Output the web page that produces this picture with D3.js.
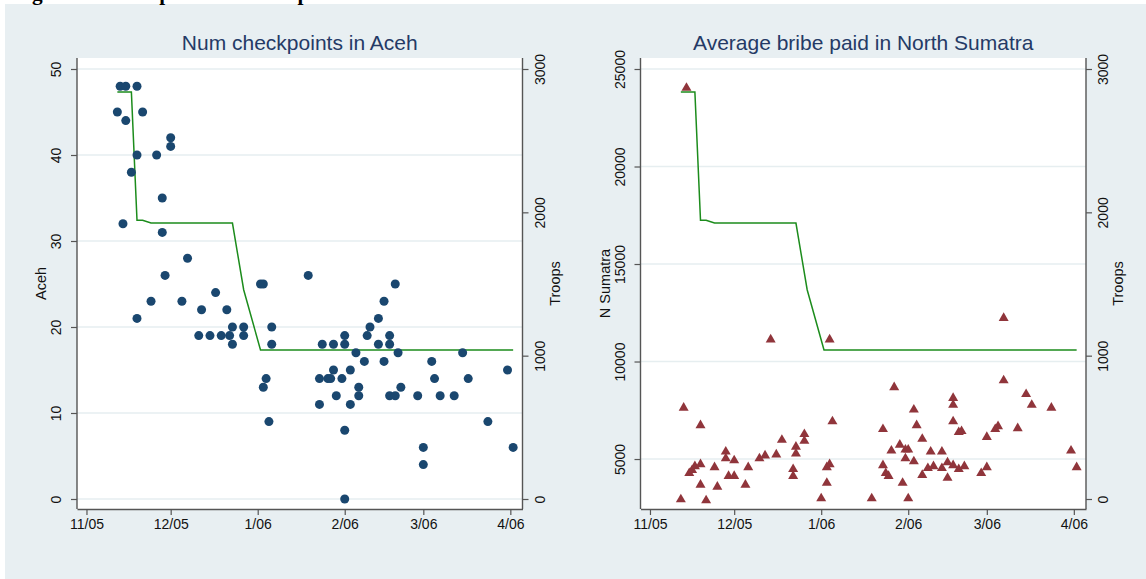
<!DOCTYPE html>
<html><head><meta charset="utf-8">
<script src="https://cdn.jsdelivr.net/npm/d3@7"></script>
<style>
body{margin:0;background:#fff}
svg{display:block;font-family:Arial,"Liberation Sans",Helvetica,sans-serif}
</style>
</head><body>
<svg id="c" width="1146" height="579"></svg>
<script>
// ---------------- data ----------------
const xTickDates = ["2005-11-01","2005-12-01","2006-01-01","2006-02-01","2006-03-01","2006-04-01"];
const xTickLabels = ["11/05","12/05","1/06","2/06","3/06","4/06"];
const acehTicks = [0,10,20,30,40,50];
const sumatraTicks = [5000,10000,15000,20000,25000];
const troopTicks = [0,1000,2000,3000];

const acehDates = ["2005-11-13","2005-11-15","2005-11-19","2005-11-12","2005-11-21","2005-11-15","2005-12-01","2005-12-01","2005-11-19","2005-11-26",
"2005-11-17","2005-11-28","2005-11-14","2005-11-28","2005-12-07","2005-11-29","2005-11-19","2005-11-24","2005-12-05","2005-12-17",
"2005-12-11","2005-12-12","2005-12-15","2005-12-19","2005-12-21","2005-12-23","2005-12-22","2005-12-23","2005-12-27","2005-12-27",
"2006-01-02","2006-01-03","2006-01-06","2006-01-06","2006-01-04","2006-01-03","2006-01-05","2006-01-19","2006-01-23","2006-01-26",
"2006-01-27","2006-01-24","2006-01-28","2006-01-31","2006-02-01","2006-02-01","2006-01-28","2006-01-23","2006-01-29","2006-02-01",
"2006-02-01","2006-02-03","2006-02-03","2006-02-05","2006-02-06","2006-02-06","2006-02-08","2006-02-09","2006-02-10","2006-02-13",
"2006-02-13","2006-02-15","2006-02-15","2006-02-17","2006-02-17","2006-02-17","2006-02-19","2006-02-19","2006-02-20","2006-02-21",
"2006-02-27","2006-03-01","2006-03-01","2006-03-04","2006-03-05","2006-03-07","2006-03-12","2006-03-15","2006-03-17","2006-03-24",
"2006-03-31","2006-04-02"];
const acehCheckpoints = [48,48,48,45,45,44,42,41,40,40,
38,35,32,31,28,26,21,23,23,24,
19,22,19,19,22,20,19,18,20,19,
25,25,20,18,14,13,9,26,14,14,
14,18,18,14,18,19,15,11,12,8,
0,15,11,17,13,12,16,19,20,21,
18,23,16,19,18,12,25,12,17,13,
12,6,4,16,14,12,12,17,14,9,
15,6];

const sumatraDates = ["2005-11-14","2005-11-12","2005-11-13","2005-11-15","2005-11-16","2005-11-17","2005-11-19","2005-11-19","2005-11-19","2005-11-21",
"2005-11-24","2005-11-25","2005-11-28","2005-11-28","2005-11-29","2005-12-01","2005-12-01","2005-12-05","2005-12-06","2005-12-10",
"2005-12-12","2005-12-16","2005-12-18","2005-12-22","2005-12-22","2005-12-23","2005-12-23","2005-12-26","2005-12-26","2005-12-14",
"2006-01-04","2006-01-01","2006-01-03","2006-01-03","2006-01-04","2006-01-05","2006-01-19","2006-01-23","2006-01-23","2006-01-24",
"2006-01-25","2006-01-26","2006-01-27","2006-01-29","2006-01-30","2006-01-31","2006-01-31","2006-02-01","2006-02-01","2006-02-03",
"2006-02-03","2006-02-04","2006-02-06","2006-02-06","2006-02-08","2006-02-09","2006-02-10","2006-02-13","2006-02-13","2006-02-15",
"2006-02-15","2006-02-17","2006-02-17","2006-02-17","2006-02-17","2006-02-19","2006-02-19","2006-02-20","2006-02-21","2006-02-27",
"2006-03-01","2006-03-01","2006-03-04","2006-03-05","2006-03-07","2006-03-07","2006-03-12","2006-03-15","2006-03-17","2006-03-24",
"2006-03-31","2006-04-02"];
const sumatraBribes = [24100,3000,7700,4350,4500,4700,4800,3750,6800,2950,
4650,3650,5450,5100,4200,4200,5000,3750,4650,5100,
5250,5300,6050,4550,4200,5350,5700,6350,6000,11200,
11200,3050,3850,4650,4800,7000,3050,6600,4750,4350,
4200,5500,8750,5800,3850,5550,5100,5550,3050,7600,
4950,6800,6100,4250,4600,5450,4700,5450,4600,4900,
4100,8200,7850,7000,4750,6450,4550,6500,4700,4350,
6200,4650,6600,6750,12300,9100,6650,8400,7850,7700,
5500,4650];

const troopDates = ["2005-11-12","2005-11-17","2005-11-19","2005-11-21","2005-11-24","2005-12-23","2005-12-27","2006-01-02","2006-04-02"];
const troopCounts = [2840,2840,1945,1945,1925,1925,1460,1040,1040];

// ---------------- drawing ----------------
const parse = d3.utcParse("%Y-%m-%d");
const svg = d3.select("#c");
const BG = "#e8eff2";
const TITLE_COL = "#243a66";
const AXIS_COL = "#555";
const GRID_COL = "#e6eef0";

svg.append("rect").attr("x",5).attr("y",4).attr("width",1141).attr("height",575).attr("fill",BG);

// page heading (cut off at the top edge, as in the reference)
svg.append("text").attr("x",13).attr("y",-0.5)
  .attr("font-family","'Liberation Serif','Times New Roman',serif").attr("font-weight","bold")
  .attr("font-size",21.3).attr("fill","#000")
  .text("Figure 3: Checkpoints and troop levels");

const PT = 58, PB = 509, YT = 69, YB = 499;
const xDomain = [new Date(Date.UTC(2005,9,28,15)), new Date(Date.UTC(2006,3,5,8))];

function panel(cfg){
  const g = svg.append("g");
  const x = d3.scaleUtc().domain(xDomain).range([cfg.x0, cfg.x1]);
  const y = d3.scaleLinear().domain(cfg.yDomain).range([YB, YT]);
  const y2 = d3.scaleLinear().domain([0,3000]).range([YB, YT]);

  g.append("rect").attr("x",cfg.x0).attr("y",PT).attr("width",cfg.x1-cfg.x0).attr("height",PB-PT).attr("fill","#fff");

  g.append("g").selectAll("line").data(cfg.yTicks).join("line")
    .attr("x1",cfg.x0).attr("x2",cfg.x1)
    .attr("y1",d=>y(d)).attr("y2",d=>y(d))
    .attr("stroke",GRID_COL).attr("stroke-width",1.3);

  const tdata = troopDates.map((d,i)=>({d:parse(d), v:troopCounts[i]}));
  g.append("path").datum(tdata)
    .attr("fill","none").attr("stroke","#1c8c1c").attr("stroke-width",1.5)
    .attr("d", d3.line().x(p=>x(p.d)).y(p=>y2(p.v)));

  const pts = cfg.dates.map((d,i)=>({d:parse(d), v:cfg.values[i]}));
  if(cfg.marker==="circle"){
    g.append("g").selectAll("circle").data(pts).join("circle")
      .attr("cx",p=>x(p.d)).attr("cy",p=>y(p.v)).attr("r",4.5)
      .attr("fill","#1a476f");
  } else {
    const w=10, h=8.6;
    g.append("g").selectAll("path").data(pts).join("path")
      .attr("transform",p=>`translate(${x(p.d)},${y(p.v)})`)
      .attr("d",`M0,${-h/2}L${w/2},${h/2}L${-w/2},${h/2}Z`)
      .attr("fill","#90353b");
  }

  g.append("line").attr("x1",cfg.x0).attr("x2",cfg.x0).attr("y1",PT).attr("y2",PB).attr("stroke",AXIS_COL).attr("stroke-width",1.4);
  g.append("line").attr("x1",cfg.x1).attr("x2",cfg.x1).attr("y1",PT).attr("y2",PB).attr("stroke",AXIS_COL).attr("stroke-width",1.4);

  const xa = g.append("g").attr("transform",`translate(0,${PB})`)
    .call(d3.axisBottom(x).tickValues(xTickDates.map(parse)).tickFormat((d,i)=>xTickLabels[i]).tickSize(6).tickSizeOuter(0));
  xa.select(".domain").attr("stroke",AXIS_COL).attr("stroke-width",1.4);
  xa.selectAll(".tick line").attr("stroke",AXIS_COL).attr("stroke-width",1.2);
  xa.selectAll(".tick text").attr("font-size",14).attr("fill","#111").attr("font-family","Arial, 'Liberation Sans', sans-serif").attr("y",20).attr("dy",0);

  const ya = g.append("g").attr("transform",`translate(${cfg.x0},0)`)
    .call(d3.axisLeft(y).tickValues(cfg.yTicks).tickFormat(d3.format("d")).tickSize(6).tickSizeOuter(0));
  ya.select(".domain").remove();
  ya.selectAll(".tick line").attr("stroke",AXIS_COL).attr("stroke-width",1.2);
  ya.selectAll(".tick text").attr("font-size",14).attr("fill","#111").attr("font-family","Arial, 'Liberation Sans', sans-serif")
    .attr("transform","rotate(-90)").attr("text-anchor","middle").attr("x",0).attr("y",-16).attr("dy",0);

  const yb = g.append("g").attr("transform",`translate(${cfg.x1},0)`)
    .call(d3.axisRight(y2).tickValues(troopTicks).tickFormat(d3.format("d")).tickSize(6).tickSizeOuter(0));
  yb.select(".domain").remove();
  yb.selectAll(".tick line").attr("stroke",AXIS_COL).attr("stroke-width",1.2);
  yb.selectAll(".tick text").attr("font-size",14).attr("fill","#111").attr("font-family","Arial, 'Liberation Sans', sans-serif")
    .attr("transform","rotate(-90)").attr("text-anchor","middle").attr("x",0).attr("y",22).attr("dy",0);

  g.append("text").attr("x",(cfg.x0+cfg.x1)/2).attr("y",50).attr("text-anchor","middle")
    .attr("font-size",21).attr("fill",TITLE_COL).text(cfg.title);
  const ym = (PT+PB)/2;
  g.append("text").attr("transform",`translate(${cfg.x0-31},${ym}) rotate(-90)`).attr("text-anchor","middle")
    .attr("font-size",14.5).attr("fill","#111").text(cfg.yTitle);
  g.append("text").attr("transform",`translate(${cfg.x1+37},${ym}) rotate(-90)`).attr("text-anchor","middle")
    .attr("font-size",14.5).attr("fill","#111").text("Troops");
}

panel({x0:77, x1:522.5, title:"Num checkpoints in Aceh", yTitle:"Aceh",
  yDomain:[0,50], yTicks:acehTicks, dates:acehDates, values:acehCheckpoints, marker:"circle"});
panel({x0:640.5, x1:1086, title:"Average bribe paid in North Sumatra", yTitle:"N Sumatra",
  yDomain:[d3.min(sumatraBribes), 25000], yTicks:sumatraTicks, dates:sumatraDates, values:sumatraBribes, marker:"triangle"});
</script>
</body></html>
